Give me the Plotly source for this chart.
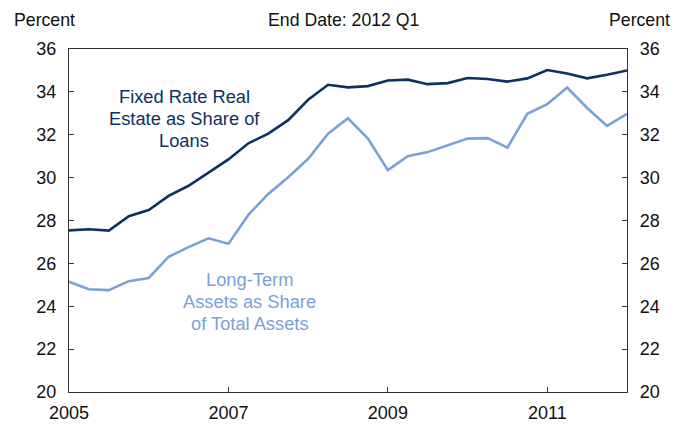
import plotly.graph_objects as go

# quarterly, 2005 Q1 .. 2012 Q1
quarters = [2005 + q / 4 for q in range(29)]

fixed_rate_re = [27.54, 27.59, 27.53, 28.20, 28.49, 29.15, 29.62, 30.25, 30.85, 31.60,
                 32.05, 32.68, 33.63, 34.33, 34.21, 34.27, 34.53, 34.57, 34.36, 34.41,
                 34.65, 34.60, 34.48, 34.63, 35.02, 34.86, 34.63, 34.80, 35.00]

long_term_assets = [25.14, 24.79, 24.75, 25.17, 25.32, 26.31, 26.76, 27.17, 26.91, 28.26,
                    29.24, 30.02, 30.88, 32.05, 32.77, 31.82, 30.35, 31.00, 31.19, 31.51,
                    31.82, 31.84, 31.40, 32.98, 33.43, 34.20, 33.25, 32.41, 32.98]

year_ticks = [2005, 2007, 2009, 2011]
pct_ticks = [20, 22, 24, 26, 28, 30, 32, 34, 36]

fixed_label = ["Fixed Rate Real", "Estate as Share of", "Loans"]
long_label = ["Long-Term", "Assets as Share", "of Total Assets"]

dark = "#0d3161"
light = "#7aa2d3"
font = "Liberation Sans, Arial, sans-serif"

fig = go.Figure()
fig.add_trace(go.Scatter(x=quarters, y=fixed_rate_re, mode="lines",
                         line=dict(color=dark, width=2.6), hoverinfo="skip"))
fig.add_trace(go.Scatter(x=quarters, y=long_term_assets, mode="lines",
                         line=dict(color=light, width=2.6), hoverinfo="skip"))
# invisible trace so the right axis shows up
fig.add_trace(go.Scatter(x=[quarters[0]], y=[20], yaxis="y2", mode="lines",
                         line=dict(width=0), showlegend=False, hoverinfo="skip"))

axis_common = dict(showgrid=False, zeroline=False, showline=True, linecolor="#333333",
                   linewidth=1.3, ticks="inside", ticklen=5, tickcolor="#333333",
                   tickfont=dict(family=font, size=18, color="#111111"))

# page body adds an 8px offset, so the figure is a bit smaller than the window
fig.update_layout(
    width=672, height=427,
    margin=dict(l=61, r=53, t=41, b=31),
    paper_bgcolor="white", plot_bgcolor="white",
    showlegend=False,
    font=dict(family=font, size=17.7, color="#111111"),
    xaxis=dict(range=[2005, 2012], tickvals=year_ticks, ticktext=[str(y) for y in year_ticks],
               mirror=True, ticklabelstandoff=4, **axis_common),
    yaxis=dict(range=[20, 36], tickvals=pct_ticks, mirror=True, ticklabelstandoff=8,
               **axis_common),
    yaxis2=dict(range=[20, 36], tickvals=pct_ticks, overlaying="y", side="right",
                ticklabelstandoff=8, **axis_common),
)

fig.add_annotation(x=0, y=1, xref="paper", yref="paper", xshift=-57, yshift=41,
                   xanchor="left", yanchor="top", showarrow=False, text="Percent")
fig.add_annotation(x=1, y=1, xref="paper", yref="paper", xshift=45, yshift=41,
                   xanchor="right", yanchor="top", showarrow=False, text="Percent")
fig.add_annotation(x=0.5, y=1, xref="paper", yref="paper", xshift=-5, yshift=41,
                   xanchor="center", yanchor="top", showarrow=False, text="End Date: 2012 Q1")

# series labels, one annotation per line (tighter spacing than plotly's <br>)
for i, line in enumerate(fixed_label):
    fig.add_annotation(x=2006.443, y=33.79, yshift=-22 * i, showarrow=False, text=line,
                       font=dict(size=18.3, color=dark))
for i, line in enumerate(long_label):
    fig.add_annotation(x=2007.27, y=25.27, yshift=-22.3 * i, showarrow=False, text=line,
                       font=dict(size=18.3, color=light))

fig.write_html("out.html")
